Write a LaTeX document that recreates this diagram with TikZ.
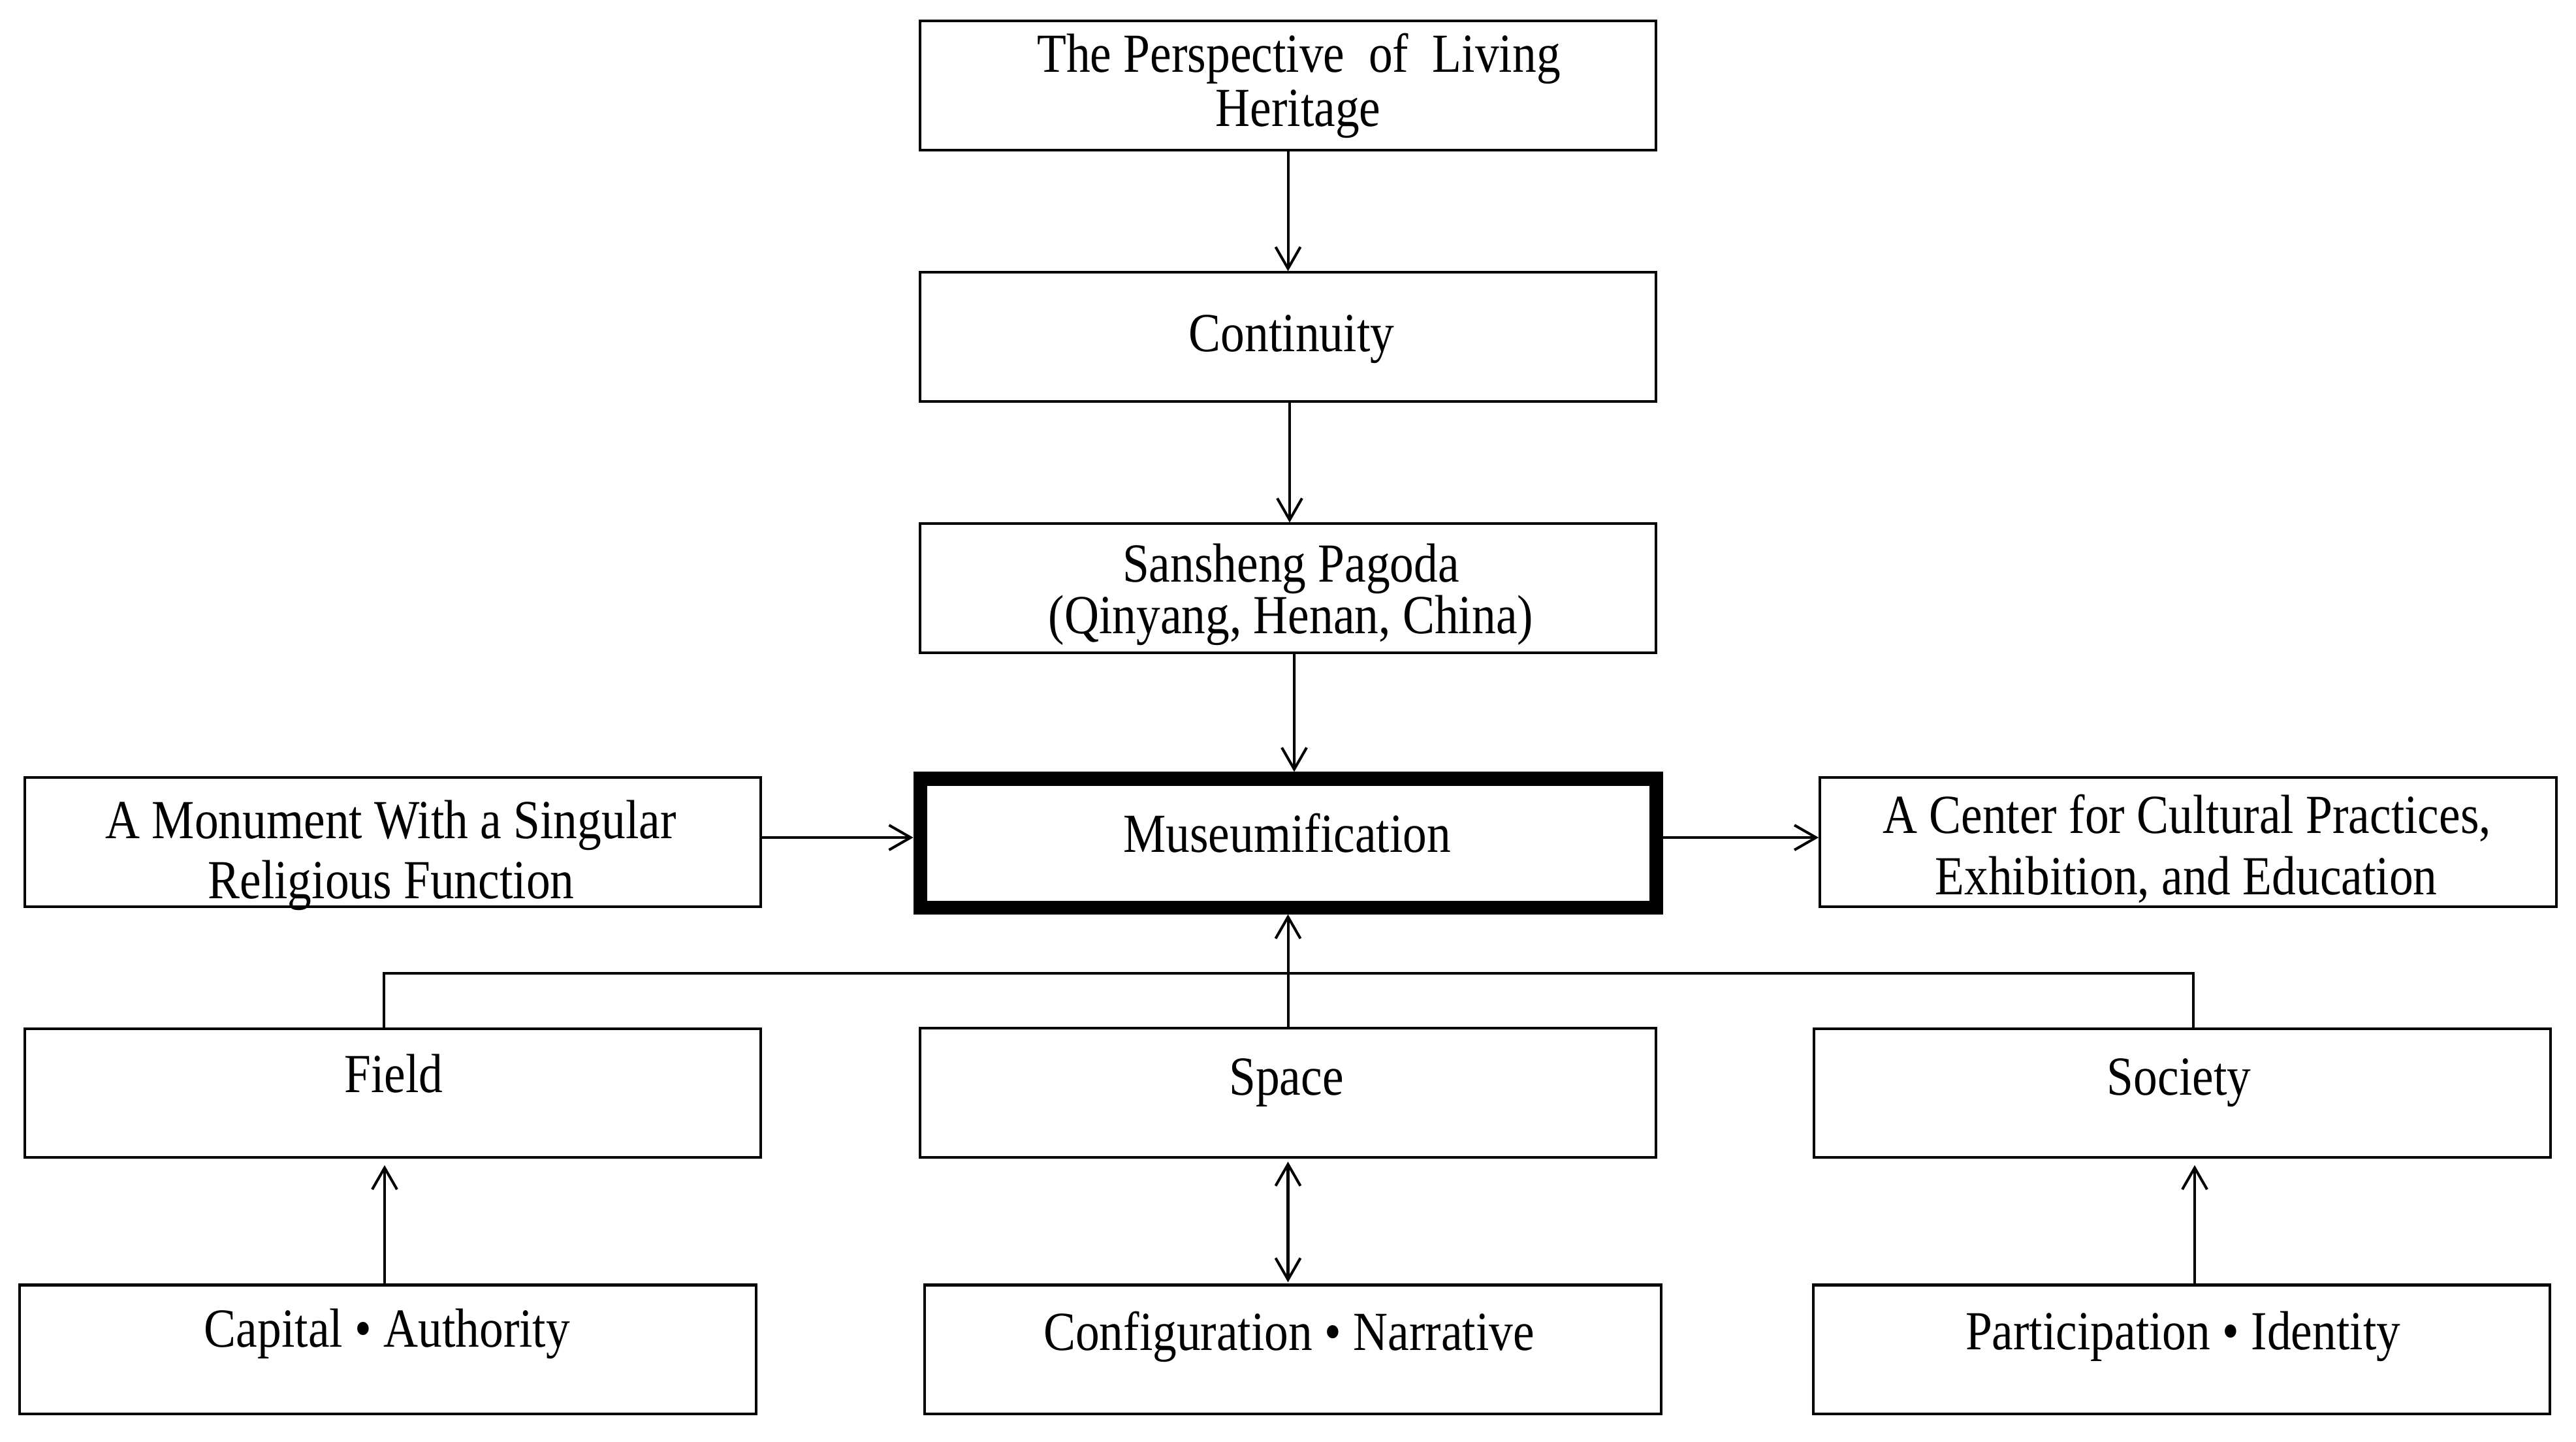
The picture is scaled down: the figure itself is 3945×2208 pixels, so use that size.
\documentclass[tikz,border=0pt]{standalone}
\usepackage{fontspec}
\setmainfont{Liberation Serif}[FakeStretch=0.87]
\usetikzlibrary{arrows.meta}
\begin{document}
\begin{tikzpicture}[x=0.01cm,y=-0.01cm,
  box/.style={draw, line width=1.15pt, minimum width=11.27cm, minimum height=1.97cm, inner sep=0pt},
  bigbox/.style={box, line width=6pt},
  txt/.style={anchor=base, inner sep=0pt, font=\fontsize{24pt}{24pt}\selectfont},
  conn/.style={line width=1.15pt},
  barb/.tip={Straight Barb[length=9.4pt,width=10.8pt]},
  arr/.style={conn, -barb},
  dblarr/.style={conn, barb-barb},
]
\fill[white] (0,0) rectangle (3945,2208);
\useasboundingbox (0,0) rectangle (3945,2208);

% boxes
\node[box] (top) at (1972.5,131) {};
\node[box] (cont) at (1972.5,516) {};
\node[box] (sans) at (1972.5,901) {};
\node[bigbox] (museum) at (1973,1291.5) {};
\node[box] (left) at (601.5,1290) {};
\node[box] (right) at (3351,1290) {};
\node[box] (field) at (601.5,1674.5) {};
\node[box] (space) at (1972.5,1674) {};
\node[box] (society) at (3342,1674.5) {};
\node[box] (capital) at (594,2067) {};
\node[box] (config) at (1980,2067) {};
\node[box] (partic) at (3341,2067) {};

% texts
\node[txt] (topA) at (1989,110) {The Perspective\ \ of\ \ Living};
\node[txt] (topB) at (1988,193) {Heritage};
\node[txt] (contT) at (1978,538) {Continuity};
\node[txt] (sansA) at (1977,891) {Sansheng Pagoda};
\node[txt] (sansB) at (1977,970) {(Qinyang, Henan, China)};
\node[txt] (museumT) at (1971,1305) {Museumification};
\node[txt] (leftA) at (598.5,1284) {A Monument With a Singular};
\node[txt] (leftB) at (599,1376) {Religious Function};
\node[txt] (rightA) at (3349,1276) {A Center for Cultural Practices,};
\node[txt] (rightB) at (3348,1370) {Exhibition, and Education};
\node[txt] (fieldT) at (603,1673) {Field};
\node[txt] (spaceT) at (1970,1677) {Space};
\node[txt] (societyT) at (3337,1677) {Society};
\node[txt] (capitalT) at (593,2063) {Capital • Authority};
\node[txt] (configT) at (1974,2068) {Configuration • Narrative};
\node[txt] (particT) at (3343,2067) {Participation • Identity};

% connectors
\draw[arr] (top.south) -- (cont.north);
\draw[arr] ([xshift=0.025cm]cont.south) -- ([xshift=0.025cm]sans.north);
\draw[arr] ([xshift=0.095cm]sans.south) -- ([xshift=0.09cm]museum.north);
\draw[arr] ([yshift=0.07cm]left.east) -- ([yshift=0.07cm]left.east -| museum.west);
\draw[arr] ([yshift=0.085cm]museum.east) -- ([yshift=0.085cm]museum.east -| right.west);
\draw[arr] (space.north) -- (space.north |- museum.south);
\coordinate (bus) at (1974,1491);
\draw[conn] ([xshift=-0.135cm]field.north) |- (bus) -| ([xshift=0.17cm]society.north);
\draw[arr, shorten >=2.8pt] ([xshift=-0.05cm]capital.north) -- ([xshift=-0.05cm]capital.north |- field.south);
\draw[dblarr, shorten >=1.4pt, shorten <=0.6pt] ([xshift=-0.075cm]config.north) -- ([xshift=-0.075cm]config.north |- space.south);
\draw[arr, shorten >=2.8pt] ([xshift=0.2cm]partic.north) -- ([xshift=0.2cm]partic.north |- society.south);
\end{tikzpicture}
\end{document}
